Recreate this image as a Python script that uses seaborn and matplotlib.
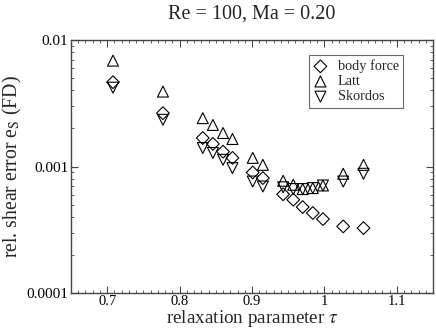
import matplotlib
matplotlib.use("Agg")
import matplotlib.pyplot as plt
import matplotlib.ticker as mticker
import seaborn as sns
import numpy as np
import pandas as pd

# ---- data ----
tau = [0.708, 0.777, 0.832, 0.846, 0.860, 0.873, 0.901, 0.915,
       0.943, 0.957, 0.970, 0.984, 0.998, 1.026, 1.054]
body_force = [0.00464, 0.00264, 0.00168, 0.00151, 0.00131, 0.00117, 0.000897, 0.000810,
              0.000603, 0.000546, 0.000478, 0.000429, 0.000384, 0.000336, 0.000326]
latt = [0.00687, 0.00391, 0.00241, 0.00213, 0.00184, 0.00165, 0.00117, 0.00103,
        0.000771, 0.000717, 0.000663, 0.000675, 0.000708, 0.000876, 0.00103]
skordos = [0.00420, 0.00234, 0.00140, 0.00128, 0.00113, 0.000971, 0.000761, 0.000695,
           0.000685, 0.000663, 0.000663, 0.000675, 0.000708, 0.000761, 0.000876]
series_names = ["body force", "Latt", "Skordos"]
series_markers = ["D", "^", "v"]
x_ticks = [0.7, 0.8, 0.9, 1.0, 1.1]
x_tick_labels = ["0.7", "0.8", "0.9", "1", "1.1"]
y_ticks = [0.0001, 0.001, 0.01]
y_tick_labels = ["0.0001", "0.001", "0.01"]
title = "Re = 100, Ma = 0.20"

df = pd.DataFrame({
    "tau": tau * 3,
    "err": body_force + latt + skordos,
    "method": [series_names[0]] * len(tau) + [series_names[1]] * len(tau) + [series_names[2]] * len(tau),
})

sns.set_style("ticks")
plt.rcParams["font.family"] = ["Liberation Serif", "DejaVu Serif"]
plt.rcParams["mathtext.fontset"] = "stix"

fig = plt.figure(figsize=(4.36, 3.31), dpi=100)
ax = fig.add_axes([71 / 436, 1 - 293 / 331, (433 - 71) / 436, (293 - 40) / 331])

sizes = {"D": 42, "^": 62, "v": 62}
for name, mk in zip(series_names, series_markers):
    sub = df[df["method"] == name]
    sns.scatterplot(data=sub, x="tau", y="err", marker=mk, s=sizes[mk],
                    color="black", facecolor="none", edgecolor="black",
                    linewidth=0.8, label=name, ax=ax, legend=False)

ax.set_yscale("log")
ax.set_xlim(0.65, 1.15)
ax.set_ylim(0.0001, 0.01)
ax.set_xticks(x_ticks)
ax.set_xticklabels(x_tick_labels)
ax.xaxis.set_minor_locator(mticker.MultipleLocator(0.01))
ax.set_yticks(y_ticks)
ax.set_yticklabels(y_tick_labels)
ax.yaxis.set_minor_locator(mticker.LogLocator(base=10, subs=np.arange(2, 10)))
ax.yaxis.set_minor_formatter(mticker.NullFormatter())

frame_col = "#444444"
for sp in ax.spines.values():
    sp.set_color(frame_col)
    sp.set_linewidth(1.0)
ax.tick_params(which="both", direction="in", top=True, right=True,
               color=frame_col, labelsize=11, labelcolor="black", pad=2)
ax.tick_params(axis="x", which="major", labelsize=10.5, pad=1.2)
ax.tick_params(which="major", length=5, width=0.8)
ax.tick_params(which="minor", length=2.5, width=0.6)

ax.set_xlabel(r"relaxation parameter $\tau$", fontsize=13.8, labelpad=0.5)
ax.set_ylabel(r"rel. shear error e$_\mathrm{S}$ (FD)", fontsize=14.2, labelpad=2)
fig.text((71 + 433) / 2 / 436, 1 - 14 / 331, title, ha="center", va="center", fontsize=14.5)

leg = ax.legend(loc="upper right", bbox_to_anchor=((403 - 71) / 362, 1 - (55 - 40) / 253),
                borderaxespad=0, frameon=True, fancybox=False, fontsize=10.3,
                handlelength=1.0, handletextpad=0.7, labelspacing=0.15,
                borderpad=0.3, scatterpoints=1)
leg.get_frame().set_edgecolor("#444444")
leg.get_frame().set_linewidth(0.8)

fig.savefig("out.png", dpi=100)
